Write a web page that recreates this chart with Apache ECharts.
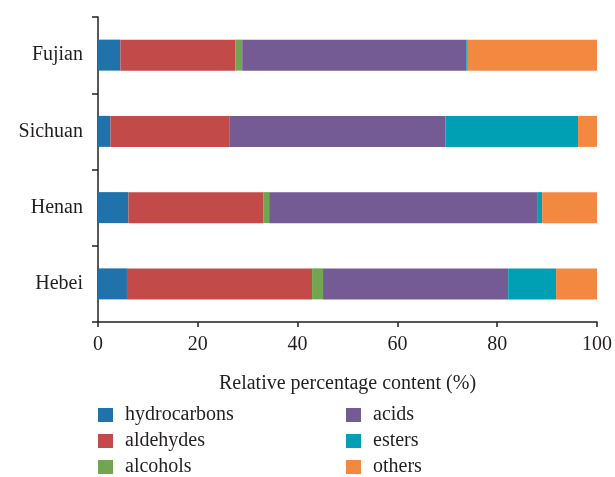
<!DOCTYPE html>
<html>
<head>
<meta charset="utf-8">
<script src="https://cdn.jsdelivr.net/npm/echarts@6/dist/echarts.min.js"></script>
<style>
  html, body { margin: 0; padding: 0; background: #fff; }
  #chart { width: 615px; height: 477px; }
</style>
</head>
<body>
<div id="chart"></div>
<script>
// Regions, bottom to top on the category axis
const regions = ['Hebei', 'Henan', 'Sichuan', 'Fujian'];

// Relative percentage content (%) of each compound class per region
const hydrocarbons = [5.8, 6.1, 2.5, 4.5];
const aldehydes    = [37.1, 27.0, 23.8, 23.0];
const alcohols     = [2.2, 1.2, 0.0, 1.4];
const acids        = [37.1, 53.7, 43.3, 44.9];
const esters       = [9.6, 1.0, 26.6, 0.3];
const others       = [8.2, 11.0, 3.8, 25.9];

const xTicks = [0, 20, 40, 60, 80, 100];

const seriesDefs = [
  { name: 'hydrocarbons', data: hydrocarbons, color: '#2072aa' },
  { name: 'aldehydes',    data: aldehydes,    color: '#c24b4a' },
  { name: 'alcohols',     data: alcohols,     color: '#72a551' },
  { name: 'acids',        data: acids,        color: '#745b93' },
  { name: 'esters',       data: esters,       color: '#00a0b4' },
  { name: 'others',       data: others,       color: '#f38940' }
];

const FONT = 'Liberation Serif';
const TEXT = '#231f20';
const FS = 20;

const legendText = {
  fontFamily: FONT, fontSize: FS, color: TEXT, padding: [0, 0, 0, 7]
};

// two stacked columns of three legend entries each
const legendBase = {
  orient: 'vertical', top: 405, padding: 0, height: 200,
  itemWidth: 15, itemHeight: 14, itemGap: 6,
  icon: 'rect', textStyle: legendText
};

const chart = echarts.init(document.getElementById('chart'), null, { renderer: 'canvas' });
chart.setOption({
  animation: false,
  backgroundColor: '#fff',
  grid: { left: 98, top: 17, width: 500, height: 305, containLabel: false },
  legend: [
    Object.assign({}, legendBase, { left: 98, data: ['hydrocarbons', 'aldehydes', 'alcohols'] }),
    Object.assign({}, legendBase, { left: 346, data: ['acids', 'esters', 'others'] })
  ],
  xAxis: {
    type: 'value',
    min: xTicks[0], max: xTicks[xTicks.length - 1],
    interval: xTicks[1] - xTicks[0],
    name: 'Relative percentage content (%)',
    nameLocation: 'middle', nameGap: 52,
    nameTextStyle: { fontFamily: FONT, fontSize: FS, color: TEXT },
    axisLine: { show: true, lineStyle: { color: TEXT, width: 1.5 } },
    axisTick: { show: true, length: 5, lineStyle: { color: TEXT, width: 1.5 } },
    axisLabel: { fontFamily: FONT, fontSize: FS, color: TEXT, margin: 13 },
    splitLine: { show: false }
  },
  yAxis: {
    type: 'category',
    data: regions,
    axisLine: { show: true, lineStyle: { color: TEXT, width: 1.5 } },
    axisTick: { show: true, length: 6, lineStyle: { color: TEXT, width: 1.5 } },
    axisLabel: { fontFamily: FONT, fontSize: FS, color: TEXT, margin: 15 },
    splitLine: { show: false }
  },
  series: seriesDefs.map(s => ({
    name: s.name,
    type: 'bar',
    stack: 'total',
    data: s.data,
    barWidth: 31,
    itemStyle: { color: s.color },
    emphasis: { disabled: true }
  }))
});
</script>
</body>
</html>
